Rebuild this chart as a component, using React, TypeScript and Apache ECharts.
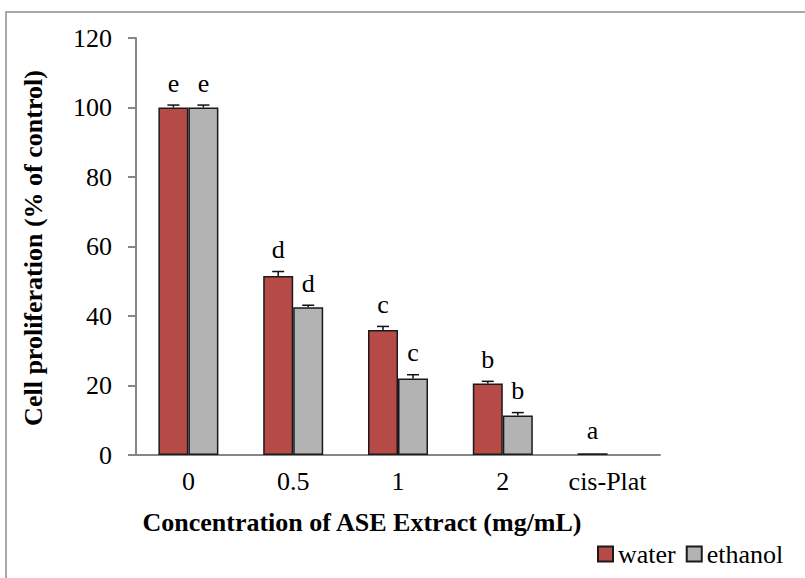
import React, { useEffect, useRef } from "react";
import * as echarts from "echarts";

const categories = ["0", "0.5", "1", "2", "cis-Plat"];
const water = [100, 51.5, 36, 20.6, 0.5];
const ethanol: (number | null)[] = [100, 42.5, 22, 11.4, null];
const waterErr = [0.7, 1.3, 1.0, 0.6, 0.2];
const ethanolErr: (number | null)[] = [0.7, 0.6, 1.1, 0.8, null];
const waterLetters = ["e", "d", "c", "b", "a"];
const ethanolLetters = ["e", "d", "c", "b", ""];
const yTicks = { min: 0, max: 120, interval: 20 };

const FONT = "'Liberation Serif', 'Times New Roman', serif";
const BAR_W = 30;

export default function App() {
  const ref = useRef<HTMLDivElement>(null);
  useEffect(() => {
    if (!ref.current) return;
    const chart = echarts.init(ref.current, undefined, { renderer: "svg" });

    const mkErr = (vals: (number | null)[], errs: (number | null)[], letters: string[], sign: number, name: string) => {
      const data: any[] = [];
      vals.forEach((v, i) => {
        if (v != null) data.push([i, v, errs[i] ?? 0, letters[i]]);
      });
      return {
        type: "custom",
        name: name,
        z: 5,
        silent: true,
        encode: { x: 0, y: 1 },
        data,
        renderItem: (params: any, api: any) => {
          const i = api.value(0);
          const v = api.value(1);
          const e = api.value(2);
          const letter = data[params.dataIndex][3];
          const base = api.coord([i, v]);
          const top = api.coord([i, v + e]);
          const x = base[0] + sign * (BAR_W / 2);
          const children: any[] = [];
          if (e > 0.3) {
            children.push({
              type: "line",
              shape: { x1: x, y1: base[1], x2: x, y2: top[1] },
              style: { stroke: "#111", lineWidth: 1.5 },
            });
            children.push({
              type: "line",
              shape: { x1: x - 6, y1: top[1], x2: x + 6, y2: top[1] },
              style: { stroke: "#111", lineWidth: 1.5 },
            });
          }
          if (letter) {
            children.push({
              type: "text",
              x: x,
              y: top[1] - 9,
              style: {
                text: letter,
                fill: "#000",
                font: `26px ${FONT}`,
                align: "center",
                verticalAlign: "bottom",
              },
            });
          }
          return { type: "group", children };
        },
      };
    };

    chart.setOption({
      animation: false,
      grid: { left: 136, right: 145, top: 38, bottom: 123, containLabel: false },
      legend: {
        data: ["water", "ethanol"],
        left: 592,
        top: 536,
        icon: "rect",
        itemWidth: 15,
        itemHeight: 15,
        itemGap: 10,
        textStyle: { fontSize: 26, fontFamily: FONT, color: "#000" },
      },
      xAxis: {
        type: "category",
        data: categories,
        axisLine: { show: true, lineStyle: { color: "#868686", width: 2 } },
        axisTick: { show: false },
        axisLabel: { fontSize: 26, fontFamily: FONT, color: "#000", margin: 13 },
        splitLine: { show: false },
      },
      yAxis: {
        type: "value",
        min: yTicks.min,
        max: yTicks.max,
        interval: yTicks.interval,
        axisLine: { show: true, lineStyle: { color: "#868686", width: 2 } },
        axisTick: { show: true, inside: false, length: 8, lineStyle: { color: "#868686", width: 2 } },
        axisLabel: { fontSize: 26, fontFamily: FONT, color: "#000", margin: 24 },
        splitLine: { show: false },
      },
      graphic: [
        {
          type: "rect",
          shape: { x: 6, y: 12, width: 900, height: 700 },
          style: { fill: "none", stroke: "#8c8c8c", lineWidth: 1.5 },
          z: -10,
        },
        {
          type: "text",
          x: 362,
          y: 522,
          style: {
            text: "Concentration of ASE Extract (mg/mL)",
            font: `bold 26px ${FONT}`,
            fill: "#000",
            align: "center",
            verticalAlign: "middle",
          },
        },
        {
          type: "text",
          x: 33,
          y: 248,
          rotation: Math.PI / 2,
          style: {
            text: "Cell proliferation (% of control)",
            font: `bold 26px ${FONT}`,
            fill: "#000",
            align: "center",
            verticalAlign: "middle",
          },
        },
      ],
      series: [
        {
          type: "bar",
          name: "water",
          data: water,
          barWidth: BAR_W,
          barGap: "0%",
          itemStyle: { color: "#b54a47", borderColor: "#1a1a1a", borderWidth: 1.5 },
        },
        {
          type: "bar",
          name: "ethanol",
          data: ethanol,
          barWidth: BAR_W,
          barGap: "0%",
          itemStyle: { color: "#b3b3b3", borderColor: "#1a1a1a", borderWidth: 1.5 },
        },
        mkErr(water, waterErr, waterLetters, -1, "waterErr"),
        mkErr(ethanol, ethanolErr, ethanolLetters, 1, "ethanolErr"),
      ],
    });
    return () => chart.dispose();
  }, []);
  return (
    <div
      ref={ref}
      style={{ position: "fixed", left: 0, top: 0, width: 805, height: 578, background: "#fff" }}
    />
  );
}
